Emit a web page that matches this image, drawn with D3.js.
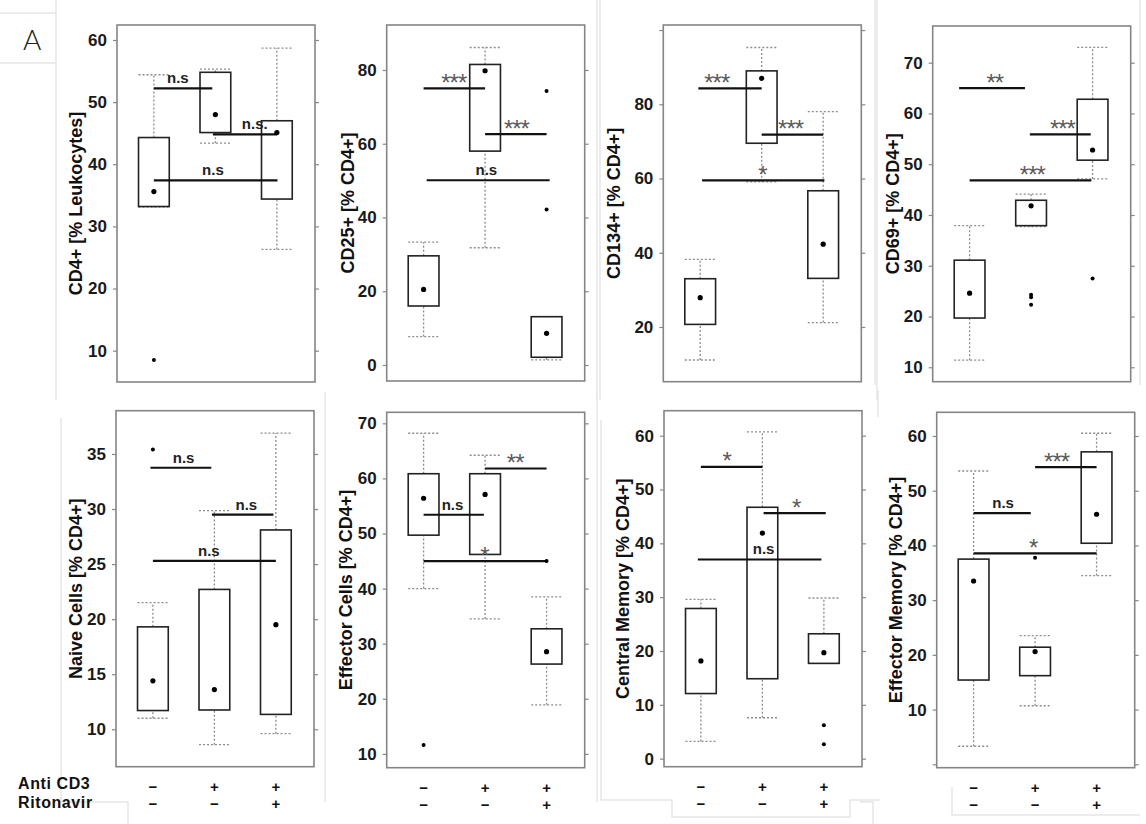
<!DOCTYPE html>
<html><head><meta charset="utf-8">
<script src="https://cdn.jsdelivr.net/npm/d3@7"></script>
<style>
body{margin:0;background:#fff}
svg{display:block;font-family:Arial,"Liberation Sans",sans-serif}
</style>
</head><body>
<svg id="c" width="1146" height="824"></svg>
<script>
// ---------------- DATA ----------------
const panelTitles = ["CD4+ [% Leukocytes]", "CD25+ [% CD4+]", "CD134+ [% CD4+]", "CD69+ [% CD4+]",
  "Naive Cells [% CD4+]", "Effector Cells [% CD4+]", "Central Memory [% CD4+]", "Effector Memory [% CD4+]"];
const conditionLabels = ["Anti CD3", "Ritonavir"];
const antiCD3 = ["\u2212", "+", "+"];
const ritonavir = ["\u2212", "\u2212", "+"];

const whiskerLow = [[33.1, 43.4, 26.3], [7.7, 31.8, 1.4], [11.1, 59.1, 21.2], [11.4, 37.7, 47.1],
  [11.0, 8.6, 9.6], [40.0, 34.5, 18.9], [3.2, 7.6, 17.7], [3.3, 10.7, 34.5]];
const boxLow = [[33.2, 45.1, 34.4], [16.0, 58.0, 2.1], [20.7, 69.5, 33.1], [19.7, 37.9, 50.8],
  [11.7, 11.75, 11.35], [49.7, 46.2, 26.3], [12.1, 14.85, 17.7], [15.4, 16.2, 40.4]];
const boxHigh = [[44.3, 54.8, 47.0], [29.6, 81.5, 13.1], [33.0, 89.0, 56.7], [31.1, 42.9, 62.8],
  [19.3, 22.7, 28.1], [60.85, 60.85, 32.7], [27.9, 46.7, 23.2], [37.5, 21.4, 57.1]];
const whiskerHigh = [[54.4, 55.3, 58.7], [33.3, 86.1, 13.1], [38.2, 95.3, 78.0], [37.9, 44.1, 73.0],
  [21.5, 29.85, 36.9], [68.2, 64.2, 38.5], [29.6, 60.7, 29.85], [53.6, 23.5, 60.5]];
const means = [[35.6, 48.0, 45.1], [20.5, 79.8, 8.6], [27.9, 87.0, 42.3], [24.6, 41.8, 52.8],
  [14.4, 13.6, 19.5], [56.4, 57.1, 28.55], [18.15, 41.9, 19.7], [33.5, 20.6, 45.7]];
const outliers = [[[8.5], [], []], [[], [], [74.3, 42.2]], [[], [], []], [[], [24.3, 23.8, 22.3], [27.5]],
  [[35.4], [], []], [[11.6], [], [45.0]], [[], [], [6.2, 2.7]], [[], [37.75], []]];

const yDomains = [[4.96, 62.41], [-4.34, 92.2], [5.26, 101.36], [7.16, 77.23],
  [6.6, 38.93], [7.49, 72.0], [-1.49, 64.64], [-0.62, 64.33]];
const yTicks = [[10, 20, 30, 40, 50, 60], [0, 20, 40, 60, 80], [20, 40, 60, 80, 100], [10, 20, 30, 40, 50, 60, 70],
  [10, 15, 20, 25, 30, 35], [10, 20, 30, 40, 50, 60, 70], [0, 10, 20, 30, 40, 50, 60], [0, 10, 20, 30, 40, 50, 60]];
const yTickLabels = [["10", "20", "30", "40", "50", "60"], ["0", "20", "40", "60", "80"], ["20", "40", "60", "80", ""],
  ["10", "20", "30", "40", "50", "60", "70"], ["10", "15", "20", "25", "30", "35"], ["10", "20", "30", "40", "50", "60", "70"],
  ["0", "10", "20", "30", "40", "50", "60"], ["", "10", "20", "30", "40", "50", "60"]];

// significance comparisons (group index from / to, value, label, label position in group units)
const sigFrom = [[0, 0.96, 0], [0, 1.0, 0.05], [-0.03, 1.0, 0.03], [-0.17, 0.98, 0],
  [-0.04, 0.96, 0], [0, 1.0, 0], [0, 1.02, -0.05], [1.0, 0, 0]];
const sigTo = [[0.95, 2.0, 2.01], [1.0, 2.0, 2.05], [1.0, 2.0, 2.02], [0.9, 1.97, 1.98],
  [0.95, 1.96, 2.0], [0.98, 2.0, 2.02], [1.0, 2.03, 1.96], [2.0, 0.93, 2.0]];
const sigValue = [[52.2, 44.8, 37.4], [75.0, 62.6, 50.1], [84.3, 71.8, 59.5], [65.0, 55.9, 46.8],
  [33.75, 29.5, 25.3], [53.4, 61.8, 45.0], [54.2, 45.6, 37.0], [54.3, 45.9, 38.55]];
const sigLabel = [["n.s", "n.s.", "n.s"], ["***", "***", "n.s"], ["***", "***", "*"], ["**", "***", "***"],
  ["n.s", "n.s", "n.s"], ["n.s", "**", "*"], ["*", "*", "n.s"], ["***", "n.s", "*"]];
const sigLabelAt = [[0.39, 1.64, 0.96], [0.49, 1.51, 1.02], [0.27, 1.47, 1.01], [0.41, 1.51, 1.02],
  [0.5, 1.52, 0.91], [0.47, 1.49, 0.99], [0.42, 1.55, 1.02], [1.35, 0.48, 0.97]];

// ---------------- LAYOUT ----------------
const panelLeft = [117, 386.7, 663.3, 932.7, 116, 386.7, 664, 936.7];
const panelTop = [25, 25, 25, 26, 410.7, 412.3, 410.7, 412.3];
const panelBottom = [382, 381, 381.7, 381.7, 766.7, 767.7, 766.7, 767.7];
const panelWidth = 198;
const titleOffset = [-41.5, -39, -49, -40, -40.5, -41, -41.5, -41];
const boxHalf = 0.25;

const svg = d3.select("#c");

// faint composition borders (background decoration)
const deco = svg.append("g").attr("stroke", "#e6e6e6").attr("stroke-width", 1.5).attr("fill", "none");
const decoPaths = [
  "M0,13 H56 M0,63 H56 M56,0 V400",
  "M61,418 V802 H128 V824",
  "M325,392 V802",
  "M597,0 V400 M600,0 V400",
  "M597,392 V802 M601,420 V800 H672 V817 H850 V800 H880",
  "M875,0 V385 M877,0 V400 M1140,0 V385",
  "M878,390 V417 M860,802 H873 V824 M952,787 V815 H1140"
];
decoPaths.forEach(d => deco.append("path").attr("d", d));

svg.append("text").attr("x", 23).attr("y", 50).attr("font-size", 28).attr("font-family", "Lato, 'Open Sans', Arial, sans-serif")
  .attr("font-weight", 300).attr("fill", "#222").text("A");

panelTitles.forEach((title, p) => {
  const left = panelLeft[p], right = left + panelWidth, top = panelTop[p], bottom = panelBottom[p];
  const x = d3.scaleLinear().domain([-0.6, 2.62]).range([left, right]);
  const y = d3.scaleLinear().domain(yDomains[p]).range([bottom, top]);
  const g = svg.append("g");

  // axes
  const axL = g.append("g").attr("transform", `translate(${left},0)`)
    .call(d3.axisLeft(y).tickValues(yTicks[p]).tickSize(4).tickPadding(6)
      .tickFormat((d, i) => yTickLabels[p][i]));
  const axR = g.append("g").attr("transform", `translate(${right},0)`)
    .call(d3.axisRight(y).tickValues(yTicks[p]).tickSize(4).tickFormat(""));
  [axL, axR].forEach(a => {
    a.select(".domain").remove();
    a.selectAll(".tick line").attr("stroke", "#888").attr("stroke-width", 1.2);
  });
  axL.selectAll(".tick text").attr("font-size", 17).attr("font-weight", "bold")
    .attr("fill", "#1a1a1a").attr("font-family", "Arial, 'Liberation Sans', sans-serif");

  // frame
  g.append("rect").attr("x", left).attr("y", top).attr("width", panelWidth).attr("height", bottom - top)
    .attr("fill", "none").attr("stroke", "#858585").attr("stroke-width", 1.6);

  // title
  g.append("text").attr("transform", `translate(${left + titleOffset[p]},${(top + bottom) / 2}) rotate(-90)`)
    .attr("text-anchor", "middle").attr("dominant-baseline", "central")
    .attr("font-size", 18).attr("font-weight", "bold").attr("fill", "#111").text(title);

  const idx = [0, 1, 2];
  const dash = sel => sel.attr("stroke", "#8c8c8c").attr("stroke-width", 1.3).attr("stroke-dasharray", "2,2");

  // whiskers
  idx.forEach(i => {
    g.append("line").attr("x1", x(i)).attr("x2", x(i)).attr("y1", y(whiskerLow[p][i])).attr("y2", y(boxLow[p][i])).call(dash);
    g.append("line").attr("x1", x(i)).attr("x2", x(i)).attr("y1", y(boxHigh[p][i])).attr("y2", y(whiskerHigh[p][i])).call(dash);
    [whiskerLow[p][i], whiskerHigh[p][i]].forEach(v =>
      g.append("line").attr("x1", x(i - boxHalf)).attr("x2", x(i + boxHalf)).attr("y1", y(v)).attr("y2", y(v)).call(dash));
  });

  // boxes
  g.selectAll("rect.box").data(idx).join("rect").attr("class", "box")
    .attr("x", i => x(i - boxHalf)).attr("width", i => x(i + boxHalf) - x(i - boxHalf))
    .attr("y", i => y(boxHigh[p][i])).attr("height", i => y(boxLow[p][i]) - y(boxHigh[p][i]))
    .attr("fill", "none").attr("stroke", "#222").attr("stroke-width", 1.6);

  // significance bars
  [0, 1, 2].forEach(k => {
    const yy = y(sigValue[p][k]);
    g.append("line").attr("x1", x(sigFrom[p][k])).attr("x2", x(sigTo[p][k])).attr("y1", yy).attr("y2", yy)
      .attr("stroke", "#111").attr("stroke-width", 2.2);
    const lbl = sigLabel[p][k];
    const isStar = lbl.indexOf("*") === 0;
    const t = g.append("text").attr("x", x(sigLabelAt[p][k])).attr("text-anchor", "middle").text(lbl);
    if (isStar) {
      t.attr("y", yy + 2.5).attr("font-size", 24).attr("fill", "#5a5a5a").attr("letter-spacing", -1);
    } else {
      t.attr("y", yy - 5).attr("font-size", 15).attr("font-weight", "bold").attr("fill", "#222");
    }
  });

  // means
  g.selectAll("circle.mean").data(idx).join("circle").attr("class", "mean")
    .attr("cx", i => x(i)).attr("cy", i => y(means[p][i])).attr("r", 2.6).attr("fill", "#000");
  // outliers
  idx.forEach(i => outliers[p][i].forEach(v =>
    g.append("circle").attr("cx", x(i)).attr("cy", y(v)).attr("r", 2).attr("fill", "#000")));

  // condition markers below bottom row
  if (p >= 4) {
    [antiCD3, ritonavir].forEach((row, r) => {
      g.selectAll(null).data(idx).join("text")
        .attr("x", i => x(i)).attr("y", bottom + 20 + r * 17)
        .attr("text-anchor", "middle").attr("dominant-baseline", "central")
        .attr("font-size", 15).attr("font-weight", "bold").attr("fill", "#111")
        .text(i => row[i]);
    });
  }
});

conditionLabels.forEach((t, r) => {
  svg.append("text").attr("x", 18).attr("y", 789 + r * 19).attr("font-size", 16).attr("font-weight", "bold")
    .attr("letter-spacing", 0.6).attr("fill", "#111").text(t);
});
</script>
</body></html>
